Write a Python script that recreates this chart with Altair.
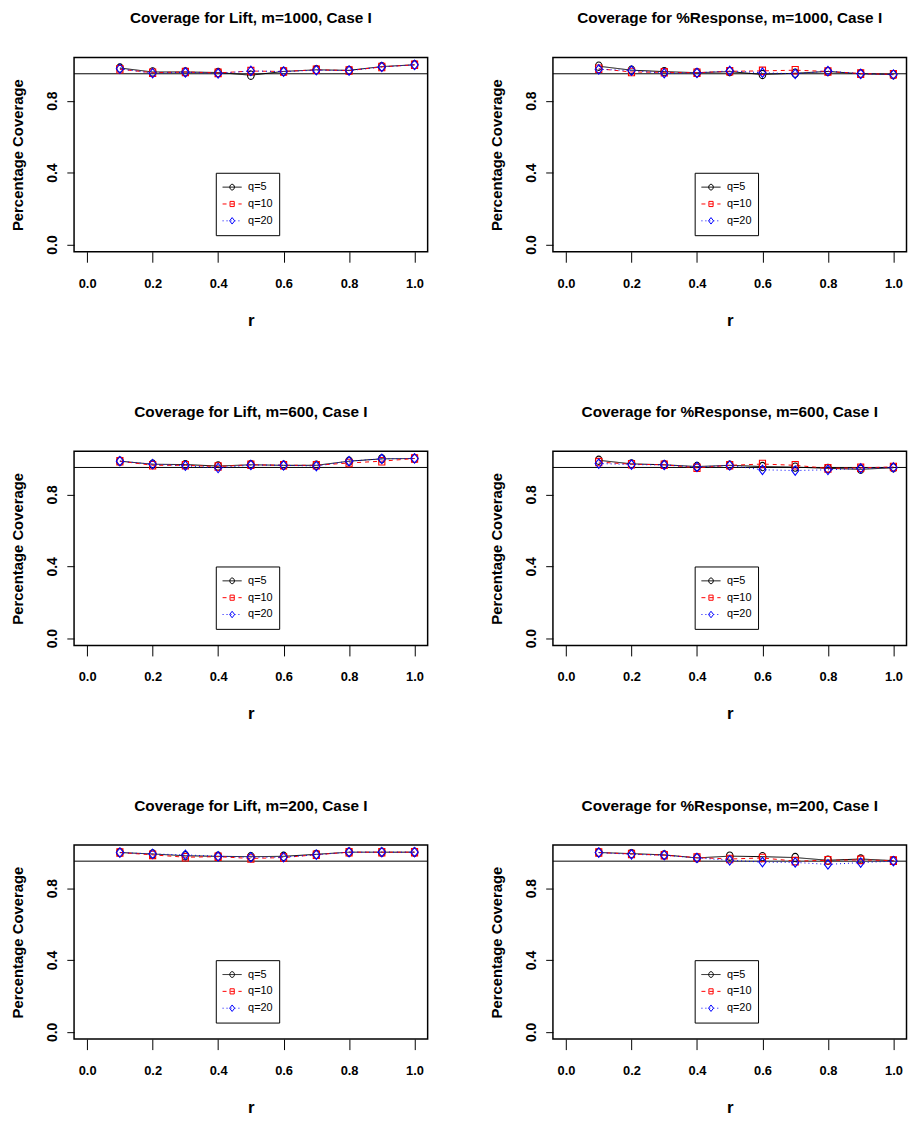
import altair as alt
import pandas as pd

# ---------------- data ----------------
r_values = [0.1, 0.2, 0.3, 0.4, 0.5, 0.6, 0.7, 0.8, 0.9, 1.0]
q_labels = ["q=5", "q=10", "q=20"]
x_ticks = [0.0, 0.2, 0.4, 0.6, 0.8, 1.0]
y_ticks = [0.0, 0.2, 0.4, 0.6, 0.8, 1.0]
y_labelled = [0.0, 0.4, 0.8]
ref_level = 0.95

titles = [
    "Coverage for Lift, m=1000, Case I",
    "Coverage for %Response, m=1000, Case I",
    "Coverage for Lift, m=600, Case I",
    "Coverage for %Response, m=600, Case I",
    "Coverage for Lift, m=200, Case I",
    "Coverage for %Response, m=200, Case I",
]

lift_1000_q5 = [0.982, 0.960, 0.960, 0.957, 0.942, 0.963, 0.972, 0.969, 0.990, 1.000]
lift_1000_q10 = [0.975, 0.956, 0.960, 0.955, 0.965, 0.963, 0.972, 0.968, 0.988, 1.000]
lift_1000_q20 = [0.978, 0.953, 0.958, 0.952, 0.966, 0.962, 0.970, 0.968, 0.988, 1.000]

resp_1000_q5 = [0.992, 0.970, 0.962, 0.956, 0.962, 0.946, 0.953, 0.963, 0.950, 0.945]
resp_1000_q10 = [0.978, 0.960, 0.958, 0.956, 0.964, 0.966, 0.970, 0.963, 0.951, 0.947]
resp_1000_q20 = [0.975, 0.968, 0.953, 0.955, 0.966, 0.956, 0.950, 0.965, 0.950, 0.946]

lift_600_q5 = [0.985, 0.968, 0.966, 0.958, 0.965, 0.962, 0.962, 0.985, 0.998, 1.000]
lift_600_q10 = [0.985, 0.962, 0.962, 0.955, 0.965, 0.962, 0.962, 0.975, 0.985, 1.000]
lift_600_q20 = [0.985, 0.968, 0.960, 0.947, 0.964, 0.962, 0.958, 0.985, 0.998, 1.000]

resp_600_q5 = [0.990, 0.970, 0.965, 0.955, 0.962, 0.955, 0.952, 0.945, 0.940, 0.948]
resp_600_q10 = [0.980, 0.968, 0.965, 0.948, 0.962, 0.969, 0.962, 0.945, 0.948, 0.953]
resp_600_q20 = [0.972, 0.966, 0.964, 0.953, 0.961, 0.937, 0.933, 0.937, 0.945, 0.950]

lift_200_q5 = [0.998, 0.990, 0.980, 0.977, 0.975, 0.977, 0.988, 1.000, 1.000, 1.000]
lift_200_q10 = [0.998, 0.985, 0.972, 0.975, 0.965, 0.970, 0.986, 1.000, 1.000, 1.000]
lift_200_q20 = [0.998, 0.990, 0.985, 0.977, 0.972, 0.972, 0.986, 1.000, 1.000, 1.000]

resp_200_q5 = [0.998, 0.992, 0.985, 0.968, 0.978, 0.975, 0.970, 0.955, 0.962, 0.953]
resp_200_q10 = [0.998, 0.990, 0.983, 0.970, 0.962, 0.968, 0.950, 0.955, 0.957, 0.953]
resp_200_q20 = [0.998, 0.988, 0.983, 0.968, 0.955, 0.945, 0.943, 0.932, 0.942, 0.950]

panels = [
    (titles[0], [lift_1000_q5, lift_1000_q10, lift_1000_q20]),
    (titles[1], [resp_1000_q5, resp_1000_q10, resp_1000_q20]),
    (titles[2], [lift_600_q5, lift_600_q10, lift_600_q20]),
    (titles[3], [resp_600_q5, resp_600_q10, resp_600_q20]),
    (titles[4], [lift_200_q5, lift_200_q10, lift_200_q20]),
    (titles[5], [resp_200_q5, resp_200_q10, resp_200_q20]),
]

# ---------------- styles ----------------
FONT = "Liberation Sans, Arial, sans-serif"
W, H = 357, 196
series_colors = ["#000000", "#ff0000", "#0000ff"]
series_dash = [[1, 0], [4, 4], [1, 3]]
# open markers (R pch 1, 0, 5), drawn as custom paths in the unit box
marker_paths = [
    "M -0.24,0 A 0.24,0.3 0 1,0 0.24,0 A 0.24,0.3 0 1,0 -0.24,0 Z",
    "M -0.22,-0.27 L 0.22,-0.27 L 0.22,0.27 L -0.22,0.27 Z",
    "M 0,-0.34 L 0.26,0 L 0,0.34 L -0.26,0 Z",
]

lab_vals = ",".join(str(int(round(v * 10))) for v in y_labelled)
y_label_expr = f"indexof([{lab_vals}], round(datum.value*10)) >= 0 ? format(datum.value, '.1f') : ''"


def legend(**kw):
    base = dict(
        title=None, orient="none", legendX=143.1, legendY=116.3,
        padding=6, clipHeight=17, rowPadding=0,
        symbolSize=372, symbolStrokeWidth=1, symbolOffset=0,
        labelOffset=5.6, labelFont=FONT, labelFontSize=11,
        labelBaseline="middle", fillColor="transparent",
    )
    base.update(kw)
    return alt.Legend(**base)


def panel(title, series):
    rows = []
    for qi, vals in enumerate(series):
        for r, v in zip(r_values, vals):
            rows.append({"r": r, "coverage": v, "q": q_labels[qi], "qp": q_labels[qi]})
    df = pd.DataFrame(rows)

    x = alt.X(
        "r:Q",
        scale=alt.Scale(domain=[-0.04, 1.04], nice=False, zero=False),
        axis=alt.Axis(
            values=x_ticks, format=".1f", title="r", grid=False, domain=False,
            tickSize=10.6, tickColor="black", tickWidth=1,
            labelPadding=15.3, labelFont=FONT, labelFontSize=13,
            labelFontWeight="bold", labelColor="black", labelBaseline="top",
            labelFlush=False, labelOverlap=False,
            titleFont=FONT, titleFontSize=17, titleFontWeight="bold",
            titleColor="black", titleX=W / 2, titleY=74,
            titleBaseline="alphabetic", titleAlign="center",
        ),
    )
    y = alt.Y(
        "coverage:Q",
        scale=alt.Scale(domain=[-0.04, 1.04], nice=False, zero=False),
        axis=alt.Axis(
            values=y_ticks, labelExpr=y_label_expr, title="Percentage Coverage",
            grid=False, domain=False, tickSize=7.3, tickColor="black", tickWidth=1,
            labelPadding=10.7, labelAngle=270, labelAlign="center",
            labelBaseline="alphabetic", labelFont=FONT, labelFontSize=14,
            labelFontWeight="bold", labelColor="black",
            labelFlush=False, labelOverlap=False,
            titleFont=FONT, titleFontSize=15, titleFontWeight="bold",
            titleColor="black", titleAngle=270, titleX=-52.1, titleY=H / 2,
            titleAlign="center", titleBaseline="alphabetic",
        ),
    )

    ref = alt.Chart(pd.DataFrame({"level": [ref_level]})).mark_rule(
        color="black", strokeWidth=1
    ).encode(y=alt.datum(ref_level))

    lines = alt.Chart(df).mark_line(strokeWidth=1).encode(
        x=x, y=y,
        color=alt.Color(
            "q:N", scale=alt.Scale(domain=q_labels, range=series_colors),
            legend=legend(symbolType="stroke", labelColor="black", strokeColor="black"),
        ),
        strokeDash=alt.StrokeDash(
            "q:N", scale=alt.Scale(domain=q_labels, range=series_dash),
            legend=legend(symbolType="stroke", labelColor="black", strokeColor="black"),
        ),
    )

    points = alt.Chart(df).mark_point(filled=False, strokeWidth=1.1, size=784, opacity=1).encode(
        x=x, y=y,
        color=alt.Color(
            "qp:N", scale=alt.Scale(domain=q_labels, range=series_colors),
            legend=legend(labelColor="transparent", strokeColor="transparent"),
        ),
        shape=alt.Shape(
            "qp:N", scale=alt.Scale(domain=q_labels, range=marker_paths),
            legend=legend(labelColor="transparent", strokeColor="transparent"),
        ),
    )

    return alt.layer(ref, lines, points).resolve_scale(
        color="independent", shape="independent", strokeDash="independent"
    ).properties(
        width=W, height=H,
        title=alt.TitleParams(
            text=title, font=FONT, fontSize=15.5, fontWeight="bold", color="black",
            anchor="middle", offset=19, frame="group", baseline="alphabetic",
        ),
    )


charts = [panel(t, s) for t, s in panels]
row_charts = []
for i in range(0, 6, 2):
    row_charts.append(
        alt.hconcat(charts[i], charts[i + 1], spacing=59.5).resolve_scale(
            color="independent", shape="independent", strokeDash="independent"
        )
    )

chart = alt.vconcat(*row_charts, spacing=75.5).resolve_scale(
    color="independent", shape="independent", strokeDash="independent"
).properties(
    padding={"left": 1.7, "top": -3.3, "right": 0, "bottom": 0}
).configure_view(
    stroke="black", strokeWidth=1.5
)

chart.save("out.html", embed_options={"renderer": "svg", "actions": False})
